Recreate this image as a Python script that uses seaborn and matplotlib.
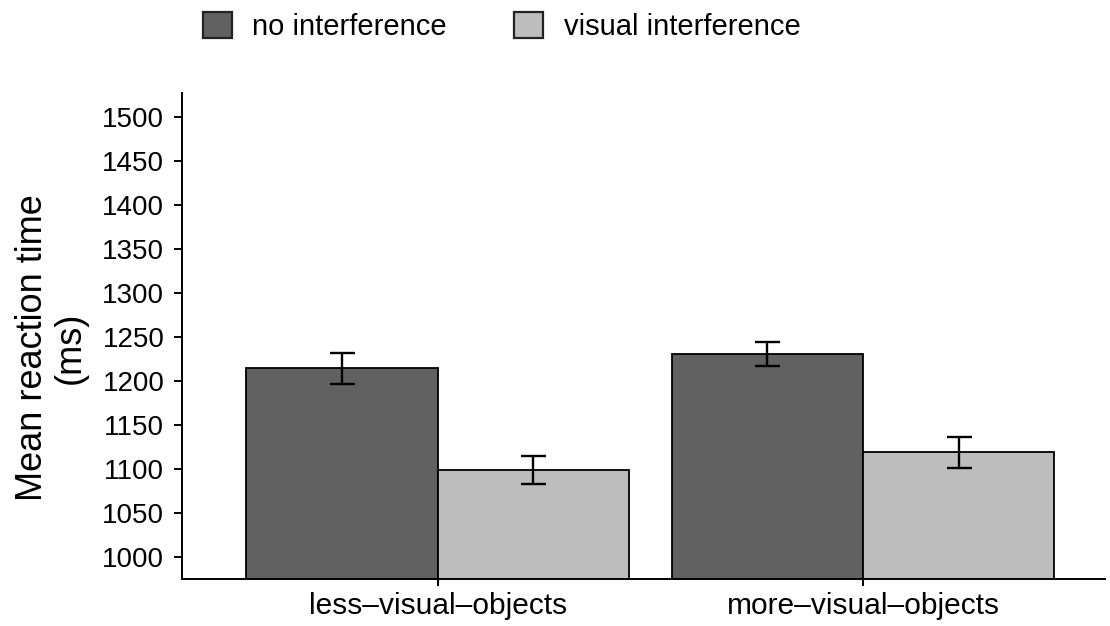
import pandas as pd
import numpy as np
import matplotlib.pyplot as plt
import seaborn as sns

# --- data ---
conditions = ['less–visual–objects', 'more–visual–objects']
interference = ['no interference', 'visual interference']
mean_rt_none = [1214, 1230]
mean_rt_visual = [1098.5, 1118.5]
err_none = [18, 13.5]
err_visual = [16, 18]
y_ticks = [1000, 1050, 1100, 1150, 1200, 1250, 1300, 1350, 1400, 1450, 1500]

df = pd.DataFrame({
    'condition': conditions * 2,
    'interference': [interference[0]] * 2 + [interference[1]] * 2,
    'rt': mean_rt_none + mean_rt_visual,
    'err': err_none + err_visual,
})

sns.set_style('ticks', {'axes.edgecolor': 'black', 'text.color': 'black',
                        'xtick.color': 'black', 'ytick.color': 'black',
                        'axes.labelcolor': 'black'})
plt.rcParams['font.family'] = ['Liberation Sans', 'DejaVu Sans']

fig = plt.figure(figsize=(11.1, 6.26), dpi=100)
ax = fig.add_axes([0.1637, 0.0746, 0.8318, 0.7764])

palette = {interference[0]: '#616161', interference[1]: '#bdbdbd'}
sns.barplot(data=df, x='condition', y='rt', hue='interference',
            hue_order=interference, order=conditions, palette=palette,
            errorbar=None, width=0.9, edgecolor='black', linewidth=1.3,
            saturation=1, ax=ax, legend=False)

# --- error bars at the bar centres ---
for cont, level in zip(ax.containers, interference):
    sub = df[df['interference'] == level].set_index('condition').loc[conditions]
    xs = [b.get_x() + b.get_width() / 2 for b in cont]
    ax.errorbar(xs, sub['rt'], yerr=sub['err'], fmt='none', ecolor='black',
                elinewidth=1.7, capsize=9, capthick=1.7, zorder=5)

ax.set_ylim(974.3, 1526.6)
ax.set_xlim(-0.602, 1.569)
ax.set_yticks(y_ticks)
ax.tick_params(axis='y', labelsize=20, length=6, width=1.4, pad=6.5)
ax.tick_params(axis='x', labelsize=21.5, length=5, width=1.4, pad=4)
ax.set_xlabel('')
ax.set_ylabel('Mean reaction time\n(ms)', fontsize=26, linespacing=1.1)
ax.yaxis.set_label_coords(-0.1015, 0.476)
sns.despine(ax=ax)
for sp in ['left', 'bottom']:
    ax.spines[sp].set_linewidth(1.4)

# --- legend on top ---
handles = [plt.Rectangle((0, 0), 1, 1, facecolor=palette[k], edgecolor='#222222',
                         linewidth=1.6) for k in interference]
fig.legend(handles, interference, loc='center', bbox_to_anchor=(0.452, 0.958),
           ncol=2, frameon=False, fontsize=21, handlelength=1.0, handleheight=1.0,
           handletextpad=0.7, columnspacing=2.3)

plt.savefig('out.png', dpi=100)
